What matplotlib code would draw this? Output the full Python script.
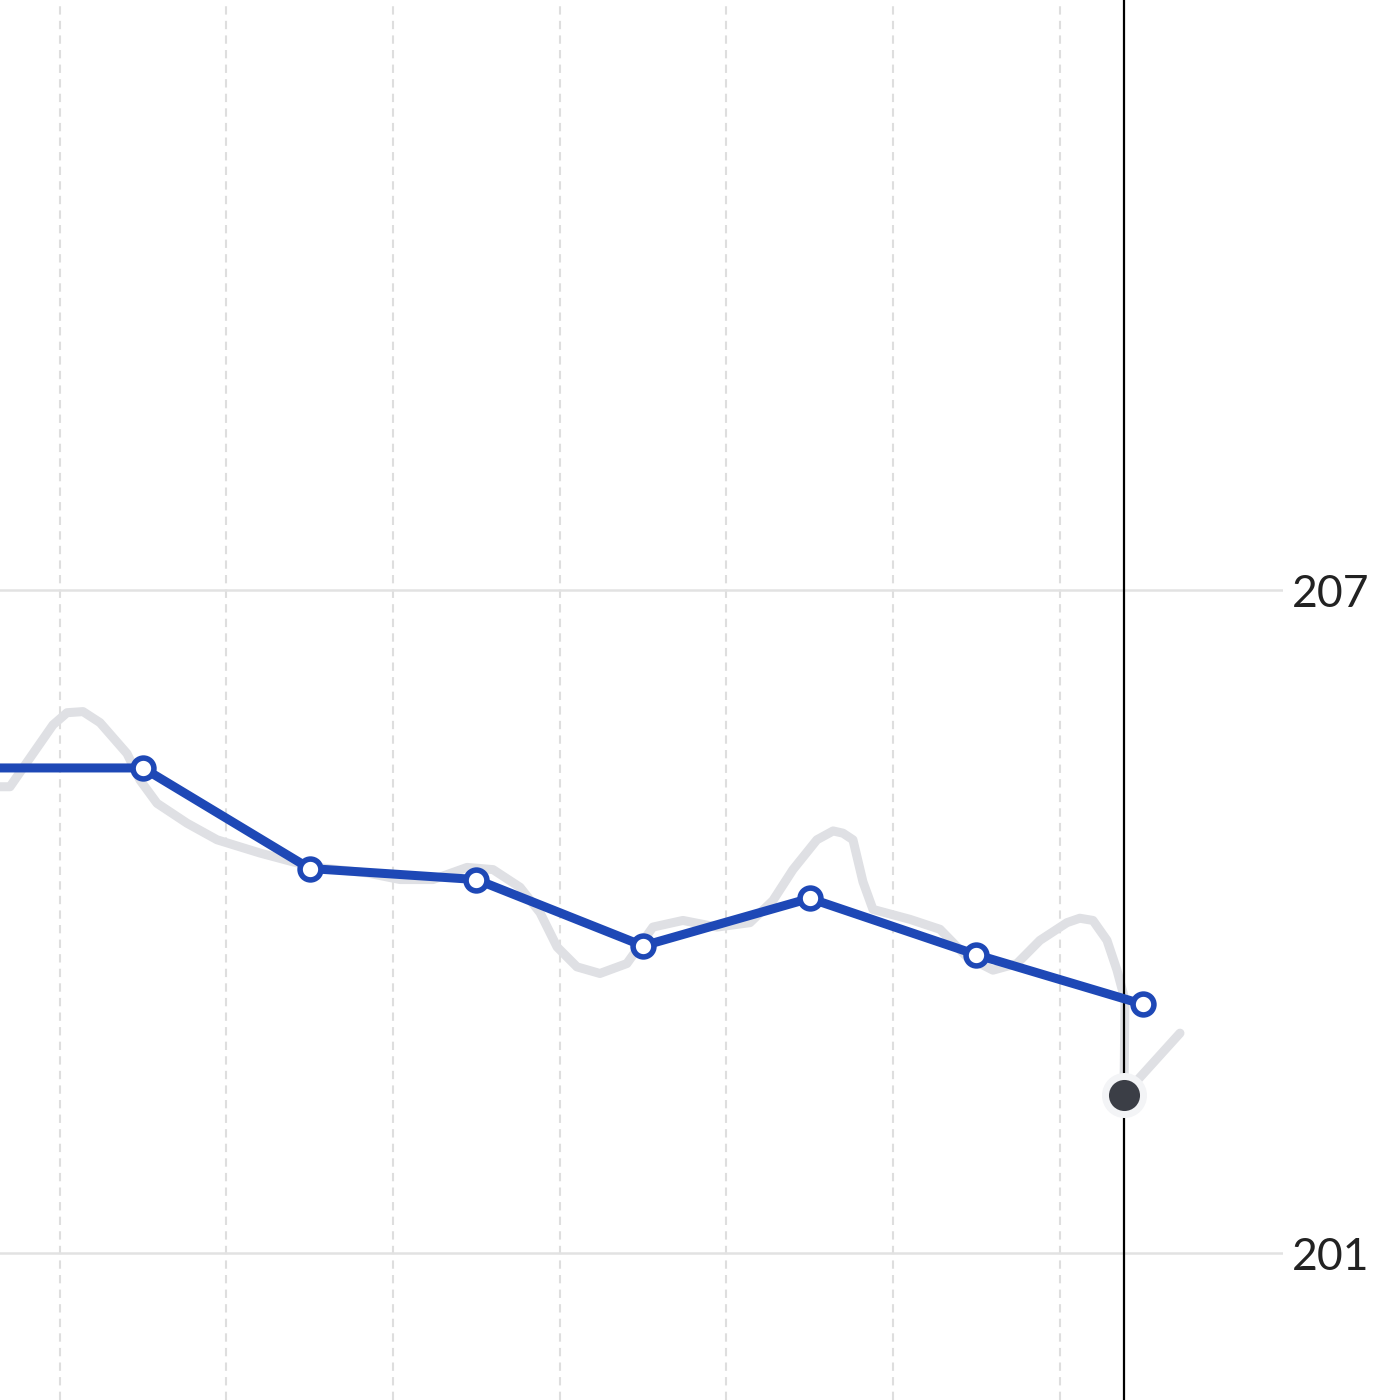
import matplotlib.pyplot as plt

# weekly points (blue) and the raw price trace (grey)
week_x = [-1, 0, 1, 2, 3, 4, 5, 6]
week_y = [205.39, 205.39, 204.48, 204.38, 203.78, 204.21, 203.70, 203.25]

trace_x = [-0.858, -0.798, -0.660, -0.540, -0.456, -0.360, -0.258, -0.096, -0.018, 0.084, 0.264,
           0.444, 0.702, 0.900, 1.044, 1.344, 1.542, 1.740, 1.944, 2.100, 2.262,
           2.382, 2.484, 2.603, 2.741, 2.903, 3.059, 3.239, 3.443, 3.641, 3.779,
           3.899, 4.043, 4.140, 4.199, 4.259, 4.319, 4.379, 4.601, 4.781, 4.943, 5.099,
           5.243, 5.381, 5.543, 5.620, 5.699, 5.783, 5.843, 5.891, 5.885, 6.221]
trace_y = [205.22, 205.22, 205.52, 205.78, 205.89, 205.90, 205.80, 205.52, 205.28, 205.07, 204.89,
           204.74, 204.62, 204.54, 204.49, 204.44, 204.38, 204.38, 204.49, 204.47, 204.31,
           204.08, 203.77, 203.59, 203.53, 203.62, 203.95, 204.01, 203.95, 203.99, 204.19,
           204.47, 204.74, 204.82, 204.80, 204.74, 204.36, 204.11, 204.02, 203.93, 203.68, 203.56,
           203.62, 203.83, 203.99, 204.03, 204.01, 203.83, 203.56, 203.29, 202.43, 202.99]

now_x = 5.885
now_y = 202.43

grid_x = [-0.5, 0.5, 1.5, 2.5, 3.5, 4.5, 5.5]
price_ticks = [201, 207]

fig = plt.figure(figsize=(14, 14), dpi=100)
ax = fig.add_axes([0, 0, 1283 / 1400, 1])
ax.set_xlim(-0.858, 6.839)
ax.set_ylim(199.67, 212.34)

for gx in grid_x:
    ax.axvline(gx, color='#dedede', lw=1.5, ls=(0, (4, 3)), zorder=1)
for t in price_ticks:
    ax.axhline(t, color='#e2e2e2', lw=1.8, zorder=1)

ax.plot(trace_x, trace_y, color='#dfe0e4', lw=6.5, solid_capstyle='round',
        solid_joinstyle='round', zorder=2)
ax.axvline(now_x, color='black', lw=1.6, zorder=3)
ax.plot(week_x, week_y, color='#1e48b6', lw=6.5, marker='o', markersize=15,
        markerfacecolor='white', markeredgecolor='#1e48b6', markeredgewidth=4, zorder=4)

# current price dot with soft halo
ax.scatter([now_x], [now_y], s=1050, color='#f3f4f6', zorder=5, linewidths=0)
ax.scatter([now_x], [now_y], s=500, color='#3b3e46', zorder=6, linewidths=0)

for s in ax.spines.values():
    s.set_visible(False)
ax.set_xticks([])
ax.set_yticks(price_ticks)
ax.yaxis.tick_right()
ax.tick_params(axis='y', length=0, pad=62)
for lbl in ax.get_yticklabels():
    lbl.set_horizontalalignment('right')
    lbl.set_fontsize(32)
    lbl.set_fontfamily(['Lato', 'DejaVu Sans'])
    lbl.set_fontweight('normal')
    lbl.set_color('#222222')

fig.savefig('out.png', dpi=100, facecolor='white')
